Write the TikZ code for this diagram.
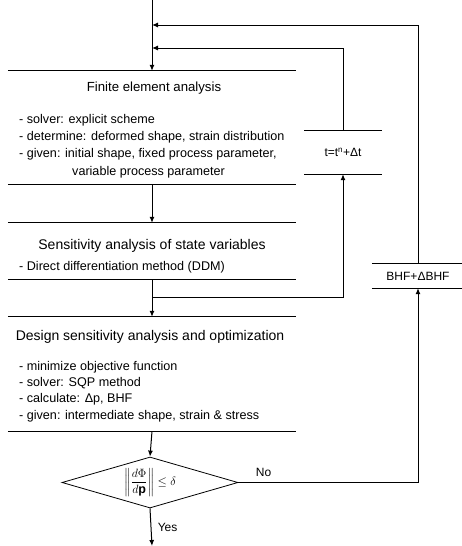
\documentclass[tikz,border=0pt]{standalone}
\usepackage{amsmath}
\usepackage{fontspec}
\setmainfont{Liberation Sans}
\usetikzlibrary{arrows.meta,shapes.geometric}

\begin{document}
\begin{tikzpicture}[
  x=1pt, y=-1pt,
  rule/.style={line width=1pt},
  stage/.style={rectangle,inner sep=0pt,minimum width=288pt},
  sbox/.style={rectangle,inner sep=0pt},
  title/.style={font=\fontsize{14}{16}\selectfont},
  items/.style={font=\fontsize{12.6}{17}\selectfont,align=left,anchor=west,inner sep=0pt},
  decide/.style={diamond,draw,line width=0.8pt,inner sep=0pt,
    minimum width=176pt,minimum height=51pt,aspect=3.45},
  arr/.style={line width=1pt,-{Latex[length=6pt,width=5pt]}}
]
  \useasboundingbox (0,0) rectangle (462,546);

  % stages
  \node[stage,minimum height=113pt] (fea) at (152,127.5) {};
  \node[stage,minimum height=56pt] (sa) at (152,251) {};
  \node[stage,minimum height=114pt] (dsa) at (152,374) {};

  % update boxes
  \node[sbox,minimum width=77pt,minimum height=43pt] (tstep) at (343,152.5) {};
  \node[sbox,minimum width=92pt,minimum height=24pt] (bhf) at (418,276) {};

  % box rules (top and bottom only)
  \foreach \b in {fea,sa,dsa,tstep,bhf}
    \draw[rule] (\b.north west) -- (\b.north east)
                (\b.south west) -- (\b.south east);

  % texts
  \node[title,font=\fontsize{13.2}{16}\selectfont] (featitle) at (154,88) {Finite element analysis};
  \node[items,font=\fontsize{12.6}{17.3}\selectfont] (feaitems) at (19,146) {- solver: explicit scheme\\
    - determine: deformed shape, strain distribution\\
    - given: initial shape, fixed process parameter,\\
    \hspace{53pt}variable process parameter};

  \node[title] (satitle) at (152,246) {Sensitivity analysis of state variables};
  \node[items] (saitems) at (19,267) {- Direct differentiation method (DDM)};

  \node[title] (dsatitle) at (150,337) {Design sensitivity analysis and optimization};
  \node[items,font=\fontsize{12.6}{16.4}\selectfont] (dsaitems) at (19,391.5) {- minimize objective function\\
    - solver: SQP method\\
    - calculate: Δp, BHF\\
    - given: intermediate shape, strain \& stress};

  \node[font=\fontsize{12}{14}\selectfont] (tlabel) at (tstep) {t=t\textsuperscript{n}+Δt};
  \node[font=\fontsize{12}{14}\selectfont] (bhflabel) at (bhf) {BHF+ΔBHF};

  % decision
  \node[decide] (dec) at (150,482.5)
    {\fontsize{12.5}{14}\selectfont$\displaystyle\left\|\frac{d\Phi}{d\mathbf{p}}\right\|\le\delta$};

  % joints
  \coordinate (in) at (152,0);
  \coordinate (j1) at (152,25);
  \coordinate (j2) at (152,48);
  \coordinate (br) at (152,297);
  \coordinate (out) at (152,546);

  % main flow
  \draw[arr] (in) -- (fea.north);
  \draw[arr] (fea.south) -- (sa.north);
  \draw[arr] (sa.south) -- (dsa.north);
  \draw[arr] (dsa.south) -- (dec.north);
  \draw[arr] (dec.south) -- (out)
    node[pos=0.5,right,xshift=3pt,font=\fontsize{12}{14}\selectfont] {Yes};

  % feedback loops
  \draw[arr] (br) -| (tstep.south);
  \draw[arr] (tstep.north) |- (j2);
  \draw[arr] (dec.east) -| (bhf.south)
    node[pos=0.07,above,yshift=2pt,font=\fontsize{12}{14}\selectfont] {No};
  \draw[arr] (bhf.north) |- (j1);
\end{tikzpicture}
\end{document}
